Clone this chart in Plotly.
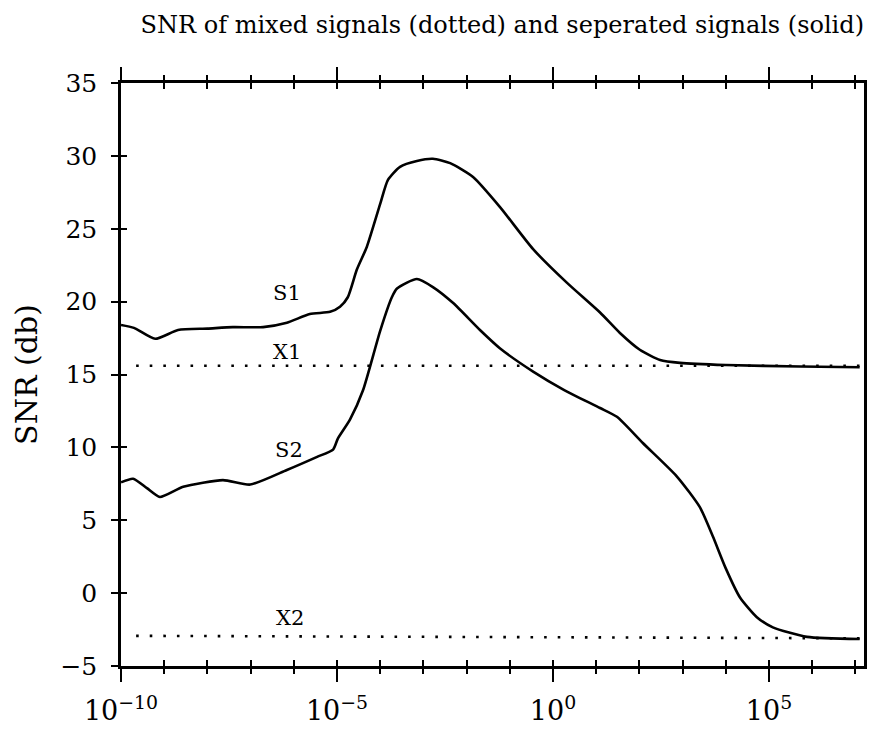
import plotly.graph_objects as go

# ---- data (x given as log10 exponents) ----
s1_exp = [-10, -9.7, -9.21, -8.68, -8.0, -7.41, -6.71, -6.16, -5.63, -5.16, -4.93, -4.75,
          -4.54, -4.31, -4.0, -3.82, -3.54, -3.15, -2.78, -2.38, -1.85, -1.23, -0.46, 0.32,
          1.09, 1.55, 2.01, 2.48, 2.94, 4.0, 5.72, 7.1]
s1_snr = [18.4, 18.2, 17.45, 18.05, 18.15, 18.25, 18.25, 18.55, 19.15, 19.3, 19.65, 20.3,
          22.2, 23.75, 26.7, 28.35, 29.25, 29.65, 29.8, 29.5, 28.55, 26.5, 23.6, 21.3,
          19.25, 17.85, 16.7, 16.0, 15.8, 15.65, 15.55, 15.5]

s2_exp = [-10, -9.72, -9.4, -9.1, -8.56, -7.64, -7.01, -6.16, -5.46, -5.09, -4.98, -4.70,
          -4.40, -4.0, -3.73, -3.61, -3.15, -2.78, -2.31, -1.69, -1.23, -0.46, 0.25,
          1.09, 1.48, 2.08, 2.87, 3.40, 3.70, 4.0, 4.33, 4.72, 5.09, 5.88, 7.1]
s2_snr = [7.6, 7.85, 7.2, 6.6, 7.3, 7.75, 7.45, 8.45, 9.35, 9.85, 10.6, 11.9,
          13.9, 18.0, 20.3, 20.9, 21.55, 21.0, 19.9, 18.05, 16.8, 15.2, 13.95,
          12.7, 12.1, 10.3, 8.0, 5.9, 3.9, 1.7, -0.3, -1.65, -2.35, -3.0, -3.15]

x1_exp = [-9.65, 7.1]
x1_snr = [15.6, 15.6]
x2_exp = [-9.65, 7.1]
x2_snr = [-2.93, -3.1]

labels = ["S1", "X1", "S2", "X2"]
label_exp = [-6.16, -6.16, -6.11, -6.09]
label_snr = [20.6, 16.55, 9.83, -1.7]

x_tickvals = [1e-10, 1e-5, 1e0, 1e5]
x_ticktext = ["10<sup>\u221210</sup>", "10<sup>\u22125</sup>", "10<sup>0</sup>", "10<sup>5</sup>"]
decades = [10.0 ** k for k in range(-10, 8)]
y_tickvals = [-5, 0, 5, 10, 15, 20, 25, 30, 35]

X_RANGE = [-10, 7.2]
Y_RANGE = [-5, 35]

to_x = lambda e: [10.0 ** v for v in e]

serif = "DejaVu Serif, serif"

fig = go.Figure()
fig.add_trace(go.Scatter(x=to_x(s1_exp), y=s1_snr, mode="lines", name="S1",
                         line=dict(color="black", width=2.6, shape="spline", smoothing=0.6)))
fig.add_trace(go.Scatter(x=to_x(s2_exp), y=s2_snr, mode="lines", name="S2",
                         line=dict(color="black", width=2.6, shape="spline", smoothing=0.6)))
fig.add_trace(go.Scatter(x=to_x(x1_exp), y=x1_snr, mode="lines", name="X1",
                         xaxis="x2", yaxis="y2",
                         line=dict(color="black", width=2.6, dash="2.6px,11px")))
fig.add_trace(go.Scatter(x=to_x(x2_exp), y=x2_snr, mode="lines", name="X2",
                         xaxis="x2", yaxis="y2",
                         line=dict(color="black", width=2.6, dash="2.6px,11px")))

for t, e, v in zip(labels, label_exp, label_snr):
    fig.add_annotation(x=e, y=v, text=t, showarrow=False,
                       font=dict(family=serif, size=21, color="black"))

fig.update_layout(
    width=878, height=736,
    margin=dict(l=113, r=22, t=75, b=78, autoexpand=False),
    paper_bgcolor="white", plot_bgcolor="white",
    showlegend=False,
    font=dict(family=serif, color="black"),
    title=dict(text="SNR of mixed signals (dotted) and seperated signals (solid)",
               x=0.563, xanchor="center", y=0.977, yanchor="middle",
               font=dict(family=serif, size=24, color="black")),
    xaxis=dict(type="log", range=X_RANGE, tickvals=x_tickvals, ticktext=x_ticktext,
               ticks="outside", ticklen=13, tickwidth=1.5, tickcolor="black",
               showline=True, linewidth=2.5, linecolor="black", mirror="ticks",
               showgrid=False, zeroline=False, automargin=False, ticklabelstandoff=6,
               tickfont=dict(family=serif, size=27, color="black"),
               minor=dict(tickvals=decades, ticks="outside", ticklen=5, tickwidth=1.5,
                          tickcolor="black", showgrid=False)),
    yaxis=dict(range=Y_RANGE, tickvals=y_tickvals,
               ticks="outside", ticklen=7, tickwidth=1.5, tickcolor="black",
               showline=True, linewidth=2.5, linecolor="black", mirror=True,
               showgrid=False, zeroline=False, automargin=False, ticklabelstandoff=9,
               tickfont=dict(family=serif, size=25, color="black"),
               title=dict(text="SNR (db)", standoff=14,
                          font=dict(family=serif, size=30, color="black"))),
    xaxis2=dict(type="log", range=X_RANGE, overlaying="x", tickvals=decades,
                showticklabels=False, ticks="inside", ticklen=6, tickwidth=1.5,
                tickcolor="black", mirror="ticks", showline=False, showgrid=False,
                zeroline=False),
    yaxis2=dict(range=Y_RANGE, overlaying="y", tickvals=y_tickvals,
                showticklabels=False, ticks="inside", ticklen=6, tickwidth=1.5,
                tickcolor="black", showline=False, showgrid=False, zeroline=False),
)

fig.write_html("out.html")
